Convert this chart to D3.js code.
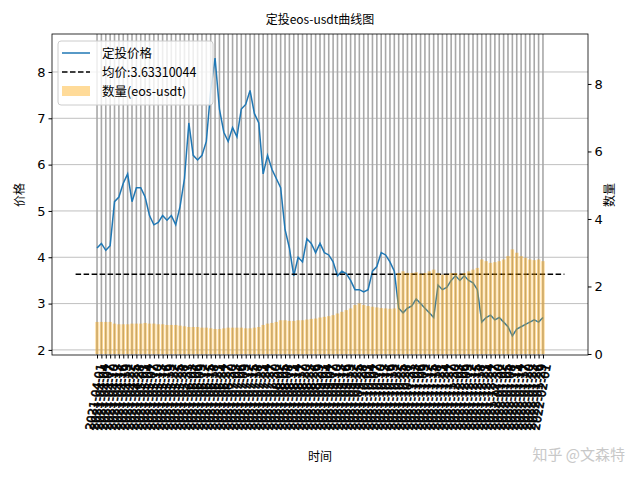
<!DOCTYPE html>
<html><head><meta charset="utf-8">
<script src="https://cdn.jsdelivr.net/npm/d3@7"></script>
<style>body{margin:0;background:#fff}</style></head>
<body><svg id="c" width="640" height="480"></svg>
<script>
const price=[4.2,4.3,4.15,4.25,5.2,5.3,5.6,5.8,5.2,5.5,5.5,5.3,4.9,4.7,4.75,4.9,4.8,4.9,4.7,5.1,5.7,6.9,6.2,6.1,6.2,6.5,7.6,8.3,7.2,6.7,6.5,6.8,6.6,7.2,7.3,7.6,7.1,6.9,5.8,6.2,5.9,5.7,5.5,4.6,4.2,3.6,4.0,3.9,4.4,4.3,4.1,4.3,4.1,4.05,3.9,3.6,3.7,3.65,3.5,3.3,3.3,3.25,3.3,3.7,3.8,4.1,4.05,3.9,3.7,2.9,2.8,2.9,2.95,3.1,3.0,2.9,2.8,2.7,3.4,3.3,3.35,3.5,3.6,3.5,3.6,3.5,3.45,3.3,2.6,2.7,2.75,2.65,2.7,2.6,2.5,2.3,2.45,2.5,2.55,2.6,2.65,2.6,2.7];
const qty=[0.95,0.95,0.95,0.95,0.9,0.88,0.88,0.88,0.9,0.9,0.9,0.92,0.9,0.9,0.88,0.88,0.86,0.86,0.86,0.84,0.82,0.8,0.8,0.8,0.78,0.78,0.76,0.74,0.74,0.76,0.78,0.78,0.78,0.78,0.76,0.76,0.78,0.8,0.86,0.9,0.92,0.95,1.0,1.0,0.98,0.98,1.0,1.0,1.02,1.04,1.05,1.08,1.1,1.12,1.15,1.2,1.25,1.3,1.35,1.45,1.5,1.45,1.42,1.4,1.38,1.36,1.35,1.34,1.35,2.4,2.45,2.4,2.4,2.42,2.38,2.4,2.45,2.5,2.4,2.35,2.35,2.4,2.4,2.35,2.4,2.45,2.5,2.55,2.8,2.75,2.7,2.72,2.75,2.8,2.9,3.1,3.0,2.9,2.85,2.8,2.78,2.8,2.75];
const meanPrice=3.63310044;
const dates=d3.timeDay.range(new Date(2021,3,1),new Date(2021,3,1+price.length*3),3).slice(0,price.length).map(d3.timeFormat("%Y-%m-%d"));
const svg=d3.select("#c"),L=52,R=588,T=34,B=355,n=price.length;
const x=d3.scaleLinear().domain([-10.3,n-1+10.3]).range([L,R]);
const y=d3.scaleLinear().domain([1.89,8.82]).range([B,T]);
const y2=d3.scaleLinear().domain([-0.03,9.48]).range([B,T]);
const g=svg.append("g");
g.selectAll(".hg").data(d3.range(2,9)).join("line").attr("x1",L).attr("x2",R).attr("y1",d=>y(d)).attr("y2",d=>y(d)).attr("stroke","#b0b0b0").attr("stroke-width",0.8);
g.selectAll(".vg").data(d3.range(n)).join("line").attr("x1",d=>x(d)).attr("x2",d=>x(d)).attr("y1",T).attr("y2",B).attr("stroke","#a8a8a8").attr("stroke-width",1.6);
g.append("path").datum(price).attr("d",d3.line().x((d,i)=>x(i)).y(d=>y(d))).attr("fill","none").attr("stroke","#1f77b4").attr("stroke-width",1.5);
g.append("line").attr("x1",x(-4.9)).attr("x2",x(n-1+4.9)).attr("y1",y(meanPrice)).attr("y2",y(meanPrice)).attr("stroke","#000").attr("stroke-width",1.5).attr("stroke-dasharray","5.5,2.5");
const bw=(x(1)-x(0))*0.8;
g.selectAll(".b").data(qty).join("rect").attr("x",(d,i)=>x(i)-bw/2).attr("width",bw).attr("y",d=>y2(d)).attr("height",d=>y2(0)-y2(d)).attr("fill","#ffa500").attr("opacity",0.4);
svg.append("rect").attr("x",L).attr("y",T).attr("width",R-L).attr("height",B-T).attr("fill","none").attr("stroke","#000").attr("stroke-width",0.8);
const f="DejaVu Sans";
svg.append("g").attr("transform",`translate(${L},0)`).call(d3.axisLeft(y).tickValues(d3.range(2,9)).tickFormat(d3.format("d")).tickSize(3.5).tickPadding(3)).call(a=>{a.select(".domain").remove();a.selectAll("text").attr("font-size",13).attr("font-family",f)});
svg.append("g").attr("transform",`translate(${R},0)`).call(d3.axisRight(y2).tickValues([0,2,4,6,8]).tickSize(3.5).tickPadding(3)).call(a=>{a.select(".domain").remove();a.selectAll("text").attr("font-size",13).attr("font-family",f)});
const xa=svg.append("g").attr("transform",`translate(0,${B})`).call(d3.axisBottom(x).tickValues(d3.range(n)).tickFormat(i=>dates[i]).tickSize(3.5));
xa.select(".domain").remove();
xa.selectAll("text").attr("font-size",11.5).attr("font-family",f).attr("stroke","#000").attr("stroke-width",0.6).attr("text-anchor","end").attr("dy","0.35em").attr("transform","translate(-3,8) rotate(-80)");
const cj="Noto Sans CJK SC";
svg.append("text").attr("x",320).attr("y",24).attr("text-anchor","middle").attr("font-size",12).attr("font-family",cj).text("定投eos-usdt曲线图");
svg.append("text").attr("transform","translate(24,195) rotate(-90)").attr("text-anchor","middle").attr("font-size",12).attr("font-family",cj).text("价格");
svg.append("text").attr("transform","translate(614,195) rotate(-90)").attr("text-anchor","middle").attr("font-size",12).attr("font-family",cj).text("数量");
svg.append("text").attr("x",320).attr("y",461).attr("text-anchor","middle").attr("font-size",12).attr("font-family",cj).text("时间");
svg.append("text").attr("x",625).attr("y",460).attr("text-anchor","end").attr("font-size",15).attr("font-family",cj).attr("fill","#c8c8c8").text("知乎 @文森特");
const lg=svg.append("g").attr("transform","translate(58,41)");
lg.append("rect").attr("width",155).attr("height",64).attr("rx",3).attr("fill","#fff").attr("fill-opacity",0.8).attr("stroke","#ccc");
const items=[["定投价格","line"],["均价:"+meanPrice,"dash"],["数量(eos-usdt)","bar"]];
items.forEach((it,i)=>{const yy=12+i*19;
 if(it[1]=="bar")lg.append("rect").attr("x",4).attr("y",yy-5).attr("width",28).attr("height",10).attr("fill","#ffa500").attr("opacity",0.4);
 else lg.append("line").attr("x1",4).attr("x2",32).attr("y1",yy).attr("y2",yy).attr("stroke",it[1]=="line"?"#1f77b4":"#000").attr("stroke-width",1.5).attr("stroke-dasharray",it[1]=="dash"?"5.5,2.5":null);
 lg.append("text").attr("x",44).attr("y",yy+4.5).attr("font-size",12.5).attr("font-family",cj).text(it[0]);});
</script></body></html>
